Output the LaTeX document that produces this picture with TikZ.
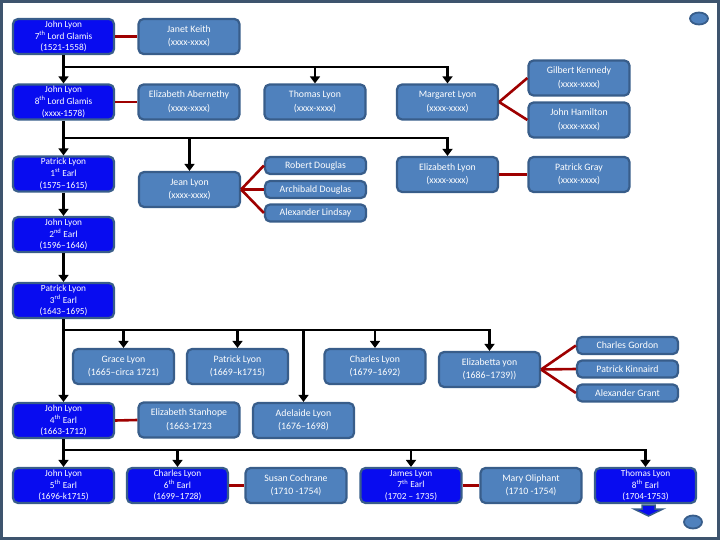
\documentclass[tikz,border=0pt]{standalone}
\usepackage{fontspec}
\setmainfont{Carlito}
\usepackage{tikz}
\usetikzlibrary{arrows.meta, positioning, calc}
\definecolor{earlblue}{RGB}{8,12,240}
\definecolor{kinblue}{RGB}{79,129,189}
\definecolor{edgeblue}{RGB}{56,93,138}
\definecolor{wedred}{RGB}{158,0,0}
\definecolor{framegray}{RGB}{62,84,110}
\tikzstyle{earl} = [rectangle, rounded corners=5pt, draw=edgeblue, line width=2.2pt, fill=earlblue, text=white, minimum width=101pt, minimum height=35pt, align=center, inner sep=0pt, font=\fontsize{9.3}{11.7}\selectfont]
\tikzstyle{kin} = [earl, fill=kinblue, font=\fontsize{9.8}{13.5}\selectfont]
\tikzstyle{minor} = [kin, minimum height=17pt]
\tikzstyle{arrow} = [line width=2.8pt, -{Triangle[length=7pt, width=10pt]}]
\tikzstyle{wed} = [line width=2.6pt, draw=wedred]

\begin{document}
\begin{tikzpicture}[x=1pt, y=-1pt]
    \useasboundingbox (0,0) rectangle (720,540);
    \draw[framegray, line width=3pt] (1.5,1.5) rectangle (718.5,538.5);

    % generation rows
    \node[earl] (lg7) at (63.5,36.5) {John Lyon\\7\textsuperscript{th} Lord Glamis\\(1521-1558)};
    \node[kin] (jk) at (189,36.5) {Janet Keith\\(xxxx-xxxx)};
    \node[earl] (lg8) at (63.5,102) {John Lyon\\8\textsuperscript{th} Lord Glamis\\(xxxx-1578)};
    \node[kin] (ea) at (189,102) {Elizabeth Abernethy\\(xxxx-xxxx)};
    \node[kin] (tl) at (315,102) {Thomas Lyon\\(xxxx-xxxx)};
    \node[kin] (ml) at (447.5,102) {Margaret Lyon\\(xxxx-xxxx)};
    \node[kin] (gk) at (579,78) {Gilbert Kennedy\\(xxxx-xxxx)};
    \node[kin] (jh) at (579,120) {John Hamilton\\(xxxx-xxxx)};

    \node[earl] (pl1) at (63.5,174) {Patrick Lyon\\1\textsuperscript{st} Earl\\(1575--1615)};
    \node[kin] (jl) at (189.5,189.5) {Jean Lyon\\(xxxx-xxxx)};
    \node[minor] (rd) at (315.5,165.5) {Robert Douglas};
    \node[minor] (ad) at (315.5,189.5) {Archibald Douglas};
    \node[minor] (al) at (315.5,213) {Alexander Lindsay};
    \node[kin] (el) at (447.5,174.5) {Elizabeth Lyon\\(xxxx-xxxx)};
    \node[kin] (pg) at (579,174.5) {Patrick Gray\\(xxxx-xxxx)};

    \node[earl] (jl2) at (63.5,234.5) {John Lyon\\2\textsuperscript{nd} Earl\\(1596--1646)};
    \node[earl] (pl3) at (63.5,300.5) {Patrick Lyon\\3\textsuperscript{rd} Earl\\(1643--1695)};

    \node[kin] (gl) at (123.5,366.5) {Grace Lyon\\(1665--circa 1721)};
    \node[kin] (pl) at (237.5,366.5) {Patrick Lyon\\(1669--k1715)};
    \node[kin] (cl) at (375,366.5) {Charles Lyon\\(1679--1692)};
    \node[kin] (ely) at (489.5,369.5) {Elizabetta yon\\(1686--1739))};
    \node[minor] (cg) at (627.5,345.5) {Charles Gordon};
    \node[minor] (pk) at (627.5,369) {Patrick Kinnaird};
    \node[minor] (ag) at (627.5,393) {Alexander Grant};

    \node[earl] (jl4) at (63.5,420.5) {John Lyon\\4\textsuperscript{th} Earl\\(1663-1712)};
    \node[kin] (es) at (189,420) {Elizabeth Stanhope\\(1663-1723};
    \node[kin] (adl) at (303.5,420.5) {Adelaide Lyon\\(1676--1698)};

    \node[earl] (jl5) at (63.5,485.5) {John Lyon\\5\textsuperscript{th} Earl\\(1696-k1715)};
    \node[earl] (cl6) at (177.5,485.5) {Charles Lyon\\6\textsuperscript{th} Earl\\(1699--1728)};
    \node[kin] (sc) at (296,485.5) {Susan Cochrane\\(1710 -1754)};
    \node[earl] (jm7) at (411,485.5) {James Lyon\\7\textsuperscript{th} Earl\\(1702 -- 1735)};
    \node[kin] (mo) at (531,485.5) {Mary Oliphant\\(1710 -1754)};
    \node[earl] (tl8) at (645.5,485.5) {Thomas Lyon\\8\textsuperscript{th} Earl\\(1704-1753)};

    % descent lines
    \coordinate (bus1) at (0,67);
    \coordinate (bus2) at (0,138);
    \coordinate (bus3) at (0,330);
    \coordinate (bus4) at (0,450);
    \draw[arrow] (lg7.south) -- (lg8.north);
    \foreach \c in {tl, ml}
        \draw[arrow] (lg7.south |- bus1) -| (\c.north);
    \draw[arrow] (lg8.south) -- (pl1.north);
    \foreach \c in {jl, el}
        \draw[arrow] (lg8.south |- bus2) -| (\c.north);
    \draw[arrow] (pl1.south) -- (jl2.north);
    \draw[arrow] (jl2.south) -- (pl3.north);
    \draw[arrow] (pl3.south) -- (jl4.north);
    \foreach \c in {gl, pl, cl, ely, adl}
        \draw[arrow] (pl3.south |- bus3) -| (\c.north);
    \draw[arrow] (jl4.south) -- (jl5.north);
    \foreach \c in {cl6, jm7, tl8}
        \draw[arrow] (jl4.south |- bus4) -| (\c.north);

    % marriages
    \draw[wed] (lg7.east) -- (jk.west);
    \draw[wed] (lg8.east) -- (ea.west);
    \foreach \s in {gk, jh}
        \draw[wed] (ml.east) -- (\s.west);
    \foreach \s in {rd, ad, al}
        \draw[wed] (jl.east) -- (\s.west);
    \draw[wed] (el.east) -- (pg.west);
    \foreach \s in {cg, pk, ag}
        \draw[wed] (ely.east) -- (\s.west);
    \draw[wed] (jl4.east) -- (es.west);
    \draw[wed] (cl6.east) -- (sc.west);
    \draw[wed] (jm7.east) -- (mo.west);

    % slide buttons
    \filldraw[fill=kinblue, draw=edgeblue, line width=1.8pt] (699,18.5) ellipse [x radius=9pt, y radius=6pt];
    \filldraw[fill=kinblue, draw=edgeblue, line width=1.8pt] (693,522) ellipse [x radius=9pt, y radius=6.5pt];
    \filldraw[fill=earlblue, draw=edgeblue, line width=1.5pt] (642,505) -- (655,505) -- (655,509) -- (663,509) -- (648.5,516) -- (634,509) -- (642,509) -- cycle;
\end{tikzpicture}
\end{document}
